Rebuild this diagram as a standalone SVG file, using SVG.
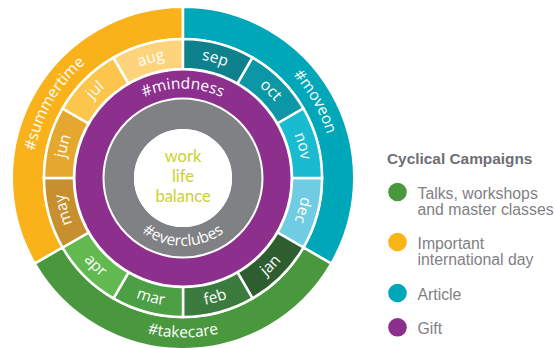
<svg xmlns="http://www.w3.org/2000/svg" xmlns:xlink="http://www.w3.org/1999/xlink" width="555" height="348" viewBox="0 0 555 348">
<style>
.seg{stroke:#fff;stroke-width:2.5;stroke-linejoin:miter}
.rl{font-family:"Open Sans","DejaVu Sans",sans-serif;font-size:15.5px;fill:#fff}
.ctr{font-family:Lato,"Open Sans",sans-serif;font-size:16.5px;fill:#C9D22A;text-anchor:middle}
.lg{font-family:"Liberation Sans",Arial,sans-serif;font-size:15.8px;fill:#808184}
.lt{font-family:"Liberation Sans",Arial,sans-serif;font-size:15.4px;font-weight:bold;fill:#6E6F72}
</style>
<defs>
<path id="topOuter" d="M52.66,102.75 A150.5,150.5 0 0 1 313.34,102.75"/>
<path id="botOuter" d="M44.87,257.75 A159.5,159.5 0 0 0 321.13,257.75"/>
<path id="topMonth" d="M79.51,118.25 A119.5,119.5 0 0 1 286.49,118.25"/>
<path id="botMonth" d="M71.72,242.25 A128.5,128.5 0 0 0 294.28,242.25"/>
<path id="topPurple" d="M105.49,133.25 A89.5,89.5 0 0 1 260.51,133.25"/>
<path id="botGray" d="M124.11,212 A68,68 0 0 0 241.89,212"/>
</defs>
<rect width="555" height="348" fill="#fff"/>
<g id="connectors"/>
<g id="ring-summertime">
<path class="seg" fill="#FAB21B" d="M34.69,263.63 A171.25,171.25 0 0 1 183,6.75 L183,39 A139,139 0 0 0 62.62,247.5 Z"/>
<text class="rl" transform="rotate(-60 183 178)"><textPath href="#topOuter" xlink:href="#topOuter" startOffset="50%" text-anchor="middle">#summertime</textPath></text>
</g>
<g id="ring-moveon">
<path class="seg" fill="#00A7B9" d="M183,6.75 A171.25,171.25 0 0 1 331.31,263.63 L303.38,247.5 A139,139 0 0 0 183,39 Z"/>
<text class="rl" transform="rotate(60 183 178)"><textPath href="#topOuter" xlink:href="#topOuter" startOffset="50%" text-anchor="middle">#moveon</textPath></text>
</g>
<g id="ring-takecare">
<path class="seg" fill="#4A983D" d="M331.31,263.63 A171.25,171.25 0 0 1 34.69,263.63 L62.62,247.5 A139,139 0 0 0 303.38,247.5 Z"/>
<text class="rl"><textPath href="#botOuter" xlink:href="#botOuter" startOffset="50%" text-anchor="middle">#takecare</textPath></text>
</g>
<g id="month-dec">
<path class="seg" fill="#70CCE2" d="M322,178 A139,139 0 0 1 303.38,247.5 L277.39,232.5 A109,109 0 0 0 292,178 Z"/>
<text class="rl" transform="rotate(105 183 178)"><textPath href="#topMonth" xlink:href="#topMonth" startOffset="50%" text-anchor="middle">dec</textPath></text>
</g>
<g id="month-jan">
<path class="seg" fill="#2E5E30" d="M303.38,247.5 A139,139 0 0 1 252.5,298.38 L237.5,272.39 A109,109 0 0 0 277.39,232.5 Z"/>
<text class="rl" transform="rotate(-45 183 178)"><textPath href="#botMonth" xlink:href="#botMonth" startOffset="50%" text-anchor="middle">jan</textPath></text>
</g>
<g id="month-feb">
<path class="seg" fill="#3B7B3D" d="M252.5,298.38 A139,139 0 0 1 183,317 L183,287 A109,109 0 0 0 237.5,272.39 Z"/>
<text class="rl" transform="rotate(-15 183 178)"><textPath href="#botMonth" xlink:href="#botMonth" startOffset="50%" text-anchor="middle">feb</textPath></text>
</g>
<g id="month-mar">
<path class="seg" fill="#4C9F44" d="M183,317 A139,139 0 0 1 113.5,298.38 L128.5,272.39 A109,109 0 0 0 183,287 Z"/>
<text class="rl" transform="rotate(15 183 178)"><textPath href="#botMonth" xlink:href="#botMonth" startOffset="50%" text-anchor="middle">mar</textPath></text>
</g>
<g id="month-apr">
<path class="seg" fill="#62B94F" d="M113.5,298.38 A139,139 0 0 1 62.62,247.5 L88.61,232.5 A109,109 0 0 0 128.5,272.39 Z"/>
<text class="rl" transform="rotate(45 183 178)"><textPath href="#botMonth" xlink:href="#botMonth" startOffset="50%" text-anchor="middle">apr</textPath></text>
</g>
<g id="month-may">
<path class="seg" fill="#C88F2E" d="M62.62,247.5 A139,139 0 0 1 44,178 L74,178 A109,109 0 0 0 88.61,232.5 Z"/>
<text class="rl" transform="rotate(-105 183 178)"><textPath href="#topMonth" xlink:href="#topMonth" startOffset="50%" text-anchor="middle">may</textPath></text>
</g>
<g id="month-jun">
<path class="seg" fill="#E4A82F" d="M44,178 A139,139 0 0 1 62.62,108.5 L88.61,123.5 A109,109 0 0 0 74,178 Z"/>
<text class="rl" transform="rotate(-75 183 178)"><textPath href="#topMonth" xlink:href="#topMonth" startOffset="50%" text-anchor="middle">jun</textPath></text>
</g>
<g id="month-jul">
<path class="seg" fill="#FCC54C" d="M62.62,108.5 A139,139 0 0 1 113.5,57.62 L128.5,83.61 A109,109 0 0 0 88.61,123.5 Z"/>
<text class="rl" transform="rotate(-45 183 178)"><textPath href="#topMonth" xlink:href="#topMonth" startOffset="50%" text-anchor="middle">jul</textPath></text>
</g>
<g id="month-aug">
<path class="seg" fill="#FDD47C" d="M113.5,57.62 A139,139 0 0 1 183,39 L183,69 A109,109 0 0 0 128.5,83.61 Z"/>
<text class="rl" transform="rotate(-15 183 178)"><textPath href="#topMonth" xlink:href="#topMonth" startOffset="50%" text-anchor="middle">aug</textPath></text>
</g>
<g id="month-sep">
<path class="seg" fill="#0D828C" d="M183,39 A139,139 0 0 1 252.5,57.62 L237.5,83.61 A109,109 0 0 0 183,69 Z"/>
<text class="rl" transform="rotate(15 183 178)"><textPath href="#topMonth" xlink:href="#topMonth" startOffset="50%" text-anchor="middle">sep</textPath></text>
</g>
<g id="month-oct">
<path class="seg" fill="#0B97A5" d="M252.5,57.62 A139,139 0 0 1 303.38,108.5 L277.39,123.5 A109,109 0 0 0 237.5,83.61 Z"/>
<text class="rl" transform="rotate(45 183 178)"><textPath href="#topMonth" xlink:href="#topMonth" startOffset="50%" text-anchor="middle">oct</textPath></text>
</g>
<g id="month-nov">
<path class="seg" fill="#18BBD0" d="M303.38,108.5 A139,139 0 0 1 322,178 L292,178 A109,109 0 0 0 277.39,123.5 Z"/>
<text class="rl" transform="rotate(75 183 178)"><textPath href="#topMonth" xlink:href="#topMonth" startOffset="50%" text-anchor="middle">nov</textPath></text>
</g>
<g id="ring-mindness">
<circle cx="183" cy="178" r="94" fill="none" stroke="#8C2F8D" stroke-width="27"/>
<text class="rl"><textPath href="#topPurple" xlink:href="#topPurple" startOffset="50%" text-anchor="middle">#mindness</textPath></text>
</g>
<g id="ring-everclubes">
<circle cx="183" cy="178" r="63.75" fill="none" stroke="#808184" stroke-width="29.5"/>
<text class="rl"><textPath href="#botGray" xlink:href="#botGray" startOffset="50%" text-anchor="middle">#everclubes</textPath></text>
</g>
<g id="center">
<circle cx="183" cy="178" r="49" fill="#fff"/>
<text class="ctr" x="183" y="162">work</text>
<text class="ctr" x="183" y="182">life</text>
<text class="ctr" x="183" y="202">balance</text>
</g>
<g id="legend">
<text class="lt" x="387" y="164">Cyclical Campaigns</text>
<g id="legend-talks">
<circle cx="397.5" cy="192" r="9.3" fill="#4A983D"/>
<text class="lg" x="417.5" y="198.5">Talks, workshops</text>
<text class="lg" x="417.5" y="214.5">and master classes</text>
</g>
<g id="legend-day">
<circle cx="397.5" cy="242" r="9.3" fill="#FBB416"/>
<text class="lg" x="417.5" y="249.3">Important</text>
<text class="lg" x="417.5" y="265">international day</text>
</g>
<g id="legend-article">
<circle cx="397.5" cy="293" r="9.3" fill="#00A7B9"/>
<text class="lg" x="417.5" y="300">Article</text>
</g>
<g id="legend-gift">
<circle cx="397.5" cy="327.3" r="9.3" fill="#8C2F8D"/>
<text class="lg" x="417.5" y="334.3">Gift</text>
</g>
</g>
</svg>
